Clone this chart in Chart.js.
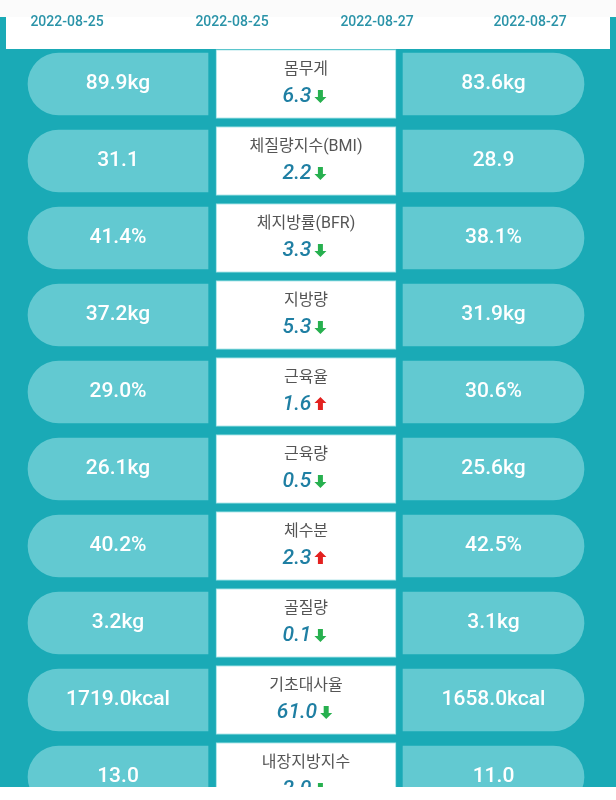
<!DOCTYPE html>
<html>
<head>
<meta charset="utf-8">
<script src="https://cdn.jsdelivr.net/npm/chart.js@4/dist/chart.umd.min.js"></script>
<style>
  body { margin: 0; background: #fff; }
  canvas { display: block; }
</style>
</head>
<body>
<canvas id="c" width="616" height="800"></canvas>
<script>
const dates = ['2022-08-25', '2022-08-25', '2022-08-27', '2022-08-27'];
const names = ['몸무게', '체질량지수(BMI)', '체지방률(BFR)', '지방량', '근육율', '근육량', '체수분', '골질량', '기초대사율', '내장지방지수'];
const units = ['kg', '', '%', 'kg', '%', 'kg', '%', 'kg', 'kcal', ''];
const before = [89.9, 31.1, 41.4, 37.2, 29.0, 26.1, 40.2, 3.2, 1719.0, 13.0];
const after = [83.6, 28.9, 38.1, 31.9, 30.6, 25.6, 42.5, 3.1, 1658.0, 11.0];
const diffs = [6.3, 2.2, 3.3, 5.3, 1.6, 0.5, 2.3, 0.1, 61.0, 2.0];

const TEAL = '#1aaab6';
const PILL = '#62c9d1';
const FONT = 'Roboto, "Noto Sans CJK KR", sans-serif';

// column extents in x-scale units (page is 616 wide)
const LEFT = [28, 208], MID = [216, 396], RIGHT = [403, 584];
const ROW0 = 84, PITCH = 77;

const background = {
  id: 'background',
  beforeDraw(chart) {
    const ctx = chart.ctx;
    ctx.save();
    ctx.fillStyle = TEAL;
    ctx.fillRect(0, 0, 616, 800);
    ctx.restore();
  }
};

const texts = {
  id: 'texts',
  afterDatasetsDraw(chart) {
    const ctx = chart.ctx, x = chart.scales.x, y = chart.scales.y;
    ctx.save();
    ctx.textAlign = 'center';
    ctx.textBaseline = 'middle';
    names.forEach((name, i) => {
      const py = y.getPixelForValue(i);
      ctx.fillStyle = '#ffffff';
      ctx.font = '500 21px ' + FONT;
      ctx.fillText(before[i].toFixed(1) + units[i], x.getPixelForValue((LEFT[0] + LEFT[1]) / 2), py);
      ctx.fillText(after[i].toFixed(1) + units[i], x.getPixelForValue((RIGHT[0] + RIGHT[1]) / 2), py);

      const cx = x.getPixelForValue((MID[0] + MID[1]) / 2);
      ctx.fillStyle = '#555555';
      ctx.font = '16px ' + FONT;
      ctx.fillText(name, cx, py - 14);

      const d = diffs[i].toFixed(1);
      ctx.font = 'italic 500 21px ' + FONT;
      const w = ctx.measureText(d).width;
      ctx.fillStyle = '#1f7fa3';
      ctx.textAlign = 'left';
      const sx = cx - (w + 14) / 2 - 2;
      ctx.fillText(d, sx, py + 13);
      ctx.textAlign = 'center';

      // arrow
      const up = after[i] > before[i];
      const ax = sx + w + 9, ay = py + 12;
      ctx.fillStyle = up ? '#e3211f' : '#27b04f';
      ctx.beginPath();
      if (up) {
        ctx.moveTo(ax, ay - 7); ctx.lineTo(ax + 6, ay - 1); ctx.lineTo(ax + 2.5, ay - 1);
        ctx.lineTo(ax + 2.5, ay + 6); ctx.lineTo(ax - 2.5, ay + 6); ctx.lineTo(ax - 2.5, ay - 1);
        ctx.lineTo(ax - 6, ay - 1);
      } else {
        ctx.moveTo(ax, ay + 7); ctx.lineTo(ax + 6, ay + 1); ctx.lineTo(ax + 2.5, ay + 1);
        ctx.lineTo(ax + 2.5, ay - 6); ctx.lineTo(ax - 2.5, ay - 6); ctx.lineTo(ax - 2.5, ay + 1);
        ctx.lineTo(ax - 6, ay + 1);
      }
      ctx.closePath();
      ctx.fill();
    });
    ctx.restore();
  },
  afterDraw(chart) {
    const ctx = chart.ctx;
    ctx.save();
    // header
    ctx.fillStyle = '#fbfbfb';
    ctx.fillRect(0, 0, 616, 17);
    ctx.fillStyle = '#ffffff';
    ctx.fillRect(6, 17, 604, 32);
    ctx.fillStyle = '#2a93a8';
    ctx.font = '500 14px ' + FONT;
    ctx.textAlign = 'center';
    ctx.textBaseline = 'middle';
    [67, 232, 377, 530].forEach((px, k) => ctx.fillText(dates[k], px, 22));
    // bottom
    ctx.fillStyle = '#ffffff';
    ctx.fillRect(0, 787, 616, 13);
    ctx.restore();
  }
};

const rows = names.map((_, i) => i);

new Chart(document.getElementById('c'), {
  type: 'bar',
  data: {
    labels: names,
    datasets: [
      {
        data: rows.map(i => ({ x: LEFT, y: i })),
        backgroundColor: PILL,
        barThickness: 62,
        grouped: false,
        borderSkipped: false,
        borderRadius: { topLeft: 31, bottomLeft: 31, topRight: 0, bottomRight: 0 }
      },
      {
        data: rows.map(i => ({ x: MID, y: i })),
        backgroundColor: '#ffffff',
        borderColor: '#8fdbe0',
        borderWidth: 1,
        barThickness: 69,
        grouped: false,
        borderSkipped: false
      },
      {
        data: rows.map(i => ({ x: RIGHT, y: i })),
        backgroundColor: PILL,
        barThickness: 62,
        grouped: false,
        borderSkipped: false,
        borderRadius: { topLeft: 0, bottomLeft: 0, topRight: 31, bottomRight: 31 }
      }
    ]
  },
  options: {
    indexAxis: 'y',
    responsive: false,
    animation: false,
    layout: { padding: 0 },
    plugins: { legend: { display: false }, tooltip: { enabled: false } },
    scales: {
      x: { type: 'linear', min: 0, max: 616, offset: false, display: false },
      y: { type: 'linear', min: -ROW0 / PITCH, max: (800 - ROW0) / PITCH, offset: false, reverse: true, display: false }
    }
  },
  plugins: [background, texts]
});
</script>
</body>
</html>
